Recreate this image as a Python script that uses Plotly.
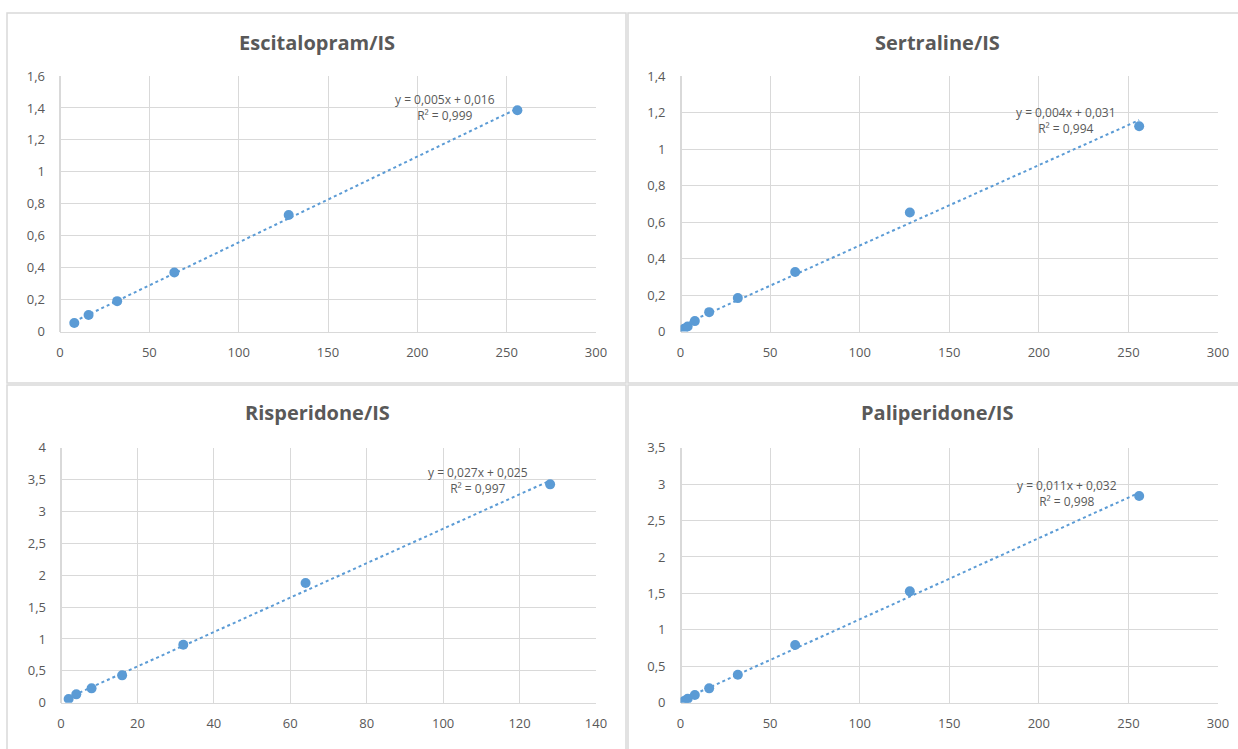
import numpy as np
import plotly.graph_objects as go

W, H = 1238, 749

# ---------------- data ----------------
titles = ["Escitalopram/IS", "Sertraline/IS", "Risperidone/IS", "Paliperidone/IS"]

esc_x = [8, 16, 32, 64, 128, 256]
esc_y = [0.053, 0.103, 0.19, 0.369, 0.73, 1.385]

ser_x = [2, 4, 8, 16, 32, 64, 128, 256]
ser_y = [0.015, 0.027, 0.057, 0.106, 0.183, 0.326, 0.652, 1.125]

ris_x = [2, 4, 8, 16, 32, 64, 128]
ris_y = [0.058, 0.131, 0.225, 0.429, 0.91, 1.877, 3.425]

pal_x = [2, 4, 8, 16, 32, 64, 128, 256]
pal_y = [0.023, 0.055, 0.105, 0.197, 0.384, 0.791, 1.528, 2.836]

eq_labels = ["y = 0,005x + 0,016", "y = 0,004x + 0,031", "y = 0,027x + 0,025", "y = 0,011x + 0,032"]
r2_labels = ["R² = 0,999", "R² = 0,994", "R² = 0,997", "R² = 0,998"]

x_ranges = [(0, 300), (0, 300), (0, 140), (0, 300)]
x_dticks = [50, 50, 20, 50]
y_ranges = [(0, 1.6), (0, 1.4), (0, 4), (0, 3.5)]
y_dticks = [0.2, 0.2, 0.5, 0.5]

series = [(esc_x, esc_y), (ser_x, ser_y), (ris_x, ris_y), (pal_x, pal_y)]

# ---------------- layout geometry (pixels) ----------------
plot_boxes = [  # left, right, top, bottom
    (60, 596, 76, 331.5),
    (680.5, 1218, 76, 331.5),
    (61, 596, 447.7, 702.7),
    (680.5, 1218, 447.7, 702.7),
]
title_pos = [(316.5, 42), (937, 42), (317.6, 413), (937, 413)]
label_pos = [(445, 108), (1066, 120), (478, 480), (1066.6, 493)]
panels = [(7, 626, 13, 383), (628, 1245, 13, 383), (7, 626, 385, 755), (628, 1245, 385, 755)]

BLUE = "#5B9BD5"
GRID = "#D9D9D9"
TXT = "#595959"
FONT = "Open Sans"

fig = go.Figure()
layout = dict(
    width=W, height=H,
    margin=dict(l=0, r=0, t=0, b=0, autoexpand=False),
    paper_bgcolor="white", plot_bgcolor="white",
    separators=", ",
    showlegend=False,
    font=dict(family=FONT, color=TXT, size=12),
    annotations=[], shapes=[],
)

for i, ((xs, ys), box) in enumerate(zip(series, plot_boxes)):
    n = "" if i == 0 else str(i + 1)
    xa, ya = "x" + n, "y" + n
    l, r, t, b = box
    layout["xaxis" + n] = dict(
        domain=[l / W, r / W], anchor=ya, range=list(x_ranges[i]), dtick=x_dticks[i],
        showgrid=True, gridcolor=GRID, gridwidth=1, zeroline=True, zerolinecolor=GRID,
        showline=True, linecolor=GRID, linewidth=1, mirror=False, automargin=False,
        ticks="", tickfont=dict(family=FONT, size=13, color=TXT), ticklabelstandoff=9,
        fixedrange=True,
    )
    layout["yaxis" + n] = dict(
        domain=[1 - b / H, 1 - t / H], anchor=xa, range=list(y_ranges[i]), dtick=y_dticks[i],
        showgrid=True, gridcolor=GRID, gridwidth=1, zeroline=True, zerolinecolor=GRID,
        showline=False, ticks="", tickfont=dict(family=FONT, size=13, color=TXT),
        ticklabelstandoff=14, fixedrange=True, automargin=False,
    )
    # linear trendline from least squares fit of the data
    slope, icpt = np.polyfit(xs, ys, 1)
    tx = np.array([min(xs), max(xs)], dtype=float)
    fig.add_trace(go.Scatter(x=tx, y=slope * tx + icpt, mode="lines", xaxis=xa, yaxis=ya,
                             line=dict(color=BLUE, width=2, dash="dot"), hoverinfo="skip"))
    fig.add_trace(go.Scatter(x=xs, y=ys, mode="markers", xaxis=xa, yaxis=ya,
                             marker=dict(color=BLUE, size=10)))
    # title
    tx_, ty_ = title_pos[i]
    layout["annotations"].append(dict(
        text="<b>" + titles[i] + "</b>", x=tx_ / W, y=1 - ty_ / H, xref="paper", yref="paper",
        showarrow=False, xanchor="center", yanchor="middle",
        font=dict(family=FONT, size=20, color=TXT)))
    # equation label
    lx, ly = label_pos[i]
    layout["annotations"].append(dict(
        text=eq_labels[i] + "<br>" + r2_labels[i], x=lx / W, y=1 - ly / H,
        xref="paper", yref="paper", showarrow=False, xanchor="center", yanchor="middle",
        align="center", font=dict(family=FONT, size=12, color=TXT)))
    # panel border
    pl, pr, pt, pb = panels[i]
    layout["shapes"].append(dict(
        type="rect", xref="paper", yref="paper", x0=pl / W, x1=pr / W, y0=1 - pb / H, y1=1 - pt / H,
        line=dict(color=GRID, width=1.5), fillcolor="rgba(0,0,0,0)", layer="below"))

fig.update_layout(**layout)
fig.write_html(
    "out.html",
    config={"displayModeBar": False},
    post_script="document.body.style.margin='0';document.body.style.overflow='hidden';",
)
